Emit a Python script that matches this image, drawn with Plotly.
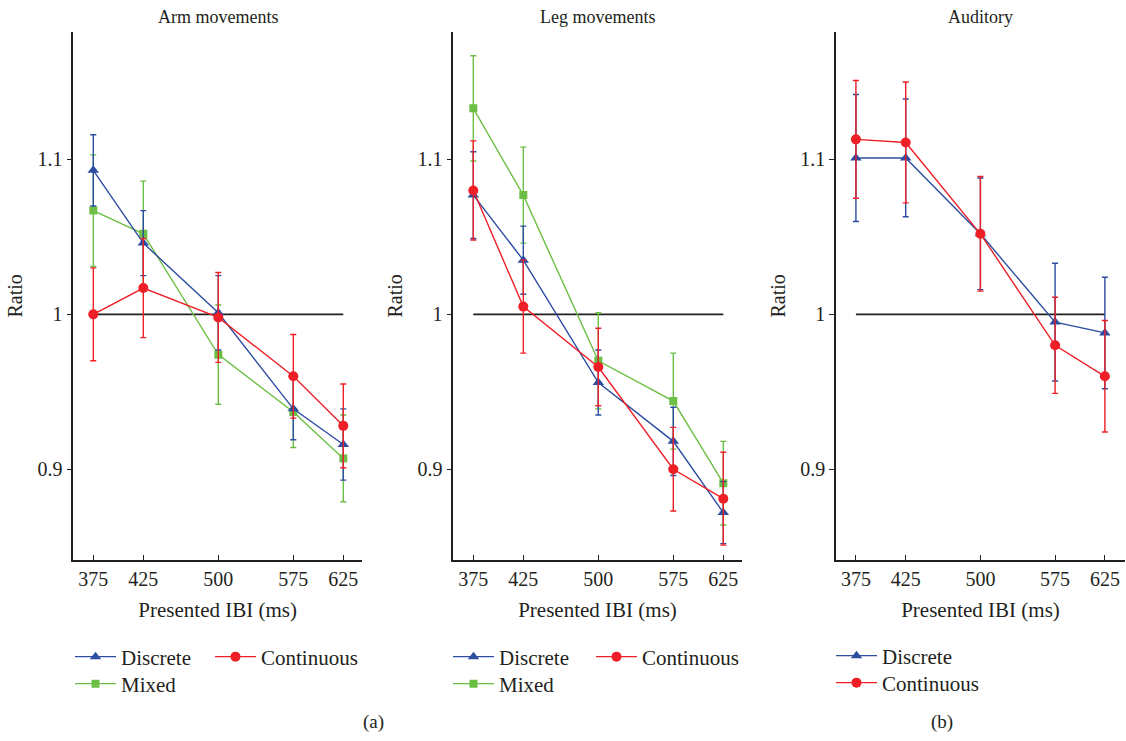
import plotly.graph_objects as go

ibi = [375, 425, 500, 575, 625]
tick_labels = ["375", "425", "500", "575", "625"]
ratio_ticks = [0.9, 1.0, 1.1]
ratio_tick_labels = ["0.9", "1", "1.1"]

arm_discrete = [1.093, 1.046, 1.001, 0.939, 0.916]
arm_discrete_err = [0.023, 0.021, 0.024, 0.020, 0.023]
arm_continuous = [1.000, 1.017, 0.998, 0.960, 0.928]
arm_continuous_err = [0.030, 0.032, 0.029, 0.027, 0.027]
arm_mixed = [1.067, 1.052, 0.974, 0.937, 0.907]
arm_mixed_err = [0.036, 0.034, 0.032, 0.023, 0.028]

leg_discrete = [1.077, 1.035, 0.956, 0.918, 0.872]
leg_discrete_err = [0.028, 0.022, 0.021, 0.022, 0.020]
leg_continuous = [1.080, 1.005, 0.966, 0.900, 0.881]
leg_continuous_err = [0.032, 0.030, 0.025, 0.027, 0.030]
leg_mixed = [1.133, 1.077, 0.970, 0.944, 0.891]
leg_mixed_err = [0.034, 0.031, 0.031, 0.031, 0.027]

aud_discrete = [1.101, 1.101, 1.052, 0.995, 0.988]
aud_discrete_err = [0.041, 0.038, 0.036, 0.038, 0.036]
aud_continuous = [1.113, 1.111, 1.052, 0.980, 0.960]
aud_continuous_err = [0.038, 0.039, 0.037, 0.031, 0.036]

panel_titles = ["Arm movements", "Leg movements", "Auditory"]
x_title = "Presented IBI (ms)"
y_title = "Ratio"

BLUE = "#2c4da0"
RED = "#ee1f26"
GREEN = "#6cbf45"
TXT = "#231f20"
FONT = "Liberation Serif"

W, H = 1126, 741
def px(x):
    return x / W
def py(y):
    return 1 - y / H

fig = go.Figure()

styles = {
    "Discrete": dict(color=BLUE, symbol="triangle-up", size=10),
    "Continuous": dict(color=RED, symbol="circle", size=10),
    "Mixed": dict(color=GREEN, symbol="square", size=8),
}

# (name, values, errors, legend id, legend left x px, legend row y px)
panels = [
    [("Mixed", arm_mixed, arm_mixed_err, "legend3", 70, 684),
     ("Discrete", arm_discrete, arm_discrete_err, "legend", 70, 657),
     ("Continuous", arm_continuous, arm_continuous_err, "legend2", 210, 657)],
    [("Mixed", leg_mixed, leg_mixed_err, "legend6", 448, 684),
     ("Discrete", leg_discrete, leg_discrete_err, "legend4", 448, 657),
     ("Continuous", leg_continuous, leg_continuous_err, "legend5", 591, 657)],
    [("Discrete", aud_discrete, aud_discrete_err, "legend7", 831, 656),
     ("Continuous", aud_continuous, aud_continuous_err, "legend8", 831, 683)],
]

legend_layouts = {}
for i, series in enumerate(panels):
    ax = "" if i == 0 else str(i + 1)
    fig.add_trace(go.Scatter(
        x=[ibi[0], ibi[-1]], y=[1, 1], mode="lines",
        line=dict(color="#231f20", width=1.6), showlegend=False, hoverinfo="skip",
        xaxis="x" + ax, yaxis="y" + ax))
    for name, vals, errs, lg, lx, ly in series:
        st = styles[name]
        fig.add_trace(go.Scatter(
            x=ibi, y=vals, mode="lines+markers", name=name,
            line=dict(color=st["color"], width=1.4),
            marker=dict(color=st["color"], symbol=st["symbol"], size=st["size"]),
            error_y=dict(type="data", array=errs, visible=True, color=st["color"],
                         thickness=1.4, width=3),
            legend=lg, xaxis="x" + ax, yaxis="y" + ax))
        legend_layouts[lg] = dict(
            x=px(lx), y=py(ly), xanchor="left", yanchor="middle",
            bgcolor="rgba(0,0,0,0)", orientation="v", itemwidth=41,
            font=dict(family=FONT, size=21, color=TXT))

x_domains = [(73.3, 362), (453.3, 741.7), (836, 1125)]
x_ranges = [(355, 643.7), (355, 643.4), (355, 645.2)]
y_domain = [py(560), py(31.7)]
y_range = [0.8414, 1.1825]

layout = dict(
    width=W, height=H, template="none",
    margin=dict(l=0, r=0, t=0, b=0),
    paper_bgcolor="white", plot_bgcolor="white",
    font=dict(family=FONT, size=18, color=TXT),
    showlegend=True,
    annotations=[],
)
layout.update(legend_layouts)

for i in range(3):
    ax = "" if i == 0 else str(i + 1)
    layout["xaxis" + ax] = dict(
        domain=[px(x_domains[i][0]), px(x_domains[i][1])], range=list(x_ranges[i]),
        anchor="y" + ax, tickvals=ibi, ticktext=tick_labels,
        ticks="inside", ticklen=5, tickwidth=1.3, tickcolor=TXT,
        showline=True, linecolor=TXT, linewidth=1.6, showgrid=False, zeroline=False,
        automargin=False, tickfont=dict(family=FONT, size=20, color=TXT),
        title=dict(text=x_title, font=dict(family=FONT, size=21, color=TXT), standoff=14),
    )
    layout["yaxis" + ax] = dict(
        domain=y_domain, range=y_range, anchor="x" + ax,
        tickvals=ratio_ticks, ticktext=ratio_tick_labels,
        ticks="outside", ticklen=5, tickwidth=1.3, tickcolor=TXT,
        showline=True, linecolor=TXT, linewidth=1.6, showgrid=False, zeroline=False,
        automargin=False, tickfont=dict(family=FONT, size=20, color=TXT),
        title=dict(text=y_title, font=dict(family=FONT, size=20, color=TXT), standoff=9),
    )
    layout["annotations"].append(dict(
        text=panel_titles[i], xref="paper", yref="paper",
        x=px((x_domains[i][0] + x_domains[i][1]) / 2), y=py(17),
        xanchor="center", yanchor="middle", showarrow=False,
        font=dict(family=FONT, size=18, color=TXT)))

layout["annotations"].append(dict(text="(a)", xref="paper", yref="paper", x=px(373), y=py(722),
                                  xanchor="center", yanchor="middle", showarrow=False,
                                  font=dict(family=FONT, size=19, color=TXT)))
layout["annotations"].append(dict(text="(b)", xref="paper", yref="paper", x=px(942), y=py(722),
                                  xanchor="center", yanchor="middle", showarrow=False,
                                  font=dict(family=FONT, size=19, color=TXT)))

fig.update_layout(**layout)
fig.write_html("out.html", config={"displayModeBar": False},
               post_script="document.body.style.margin='0px';")
